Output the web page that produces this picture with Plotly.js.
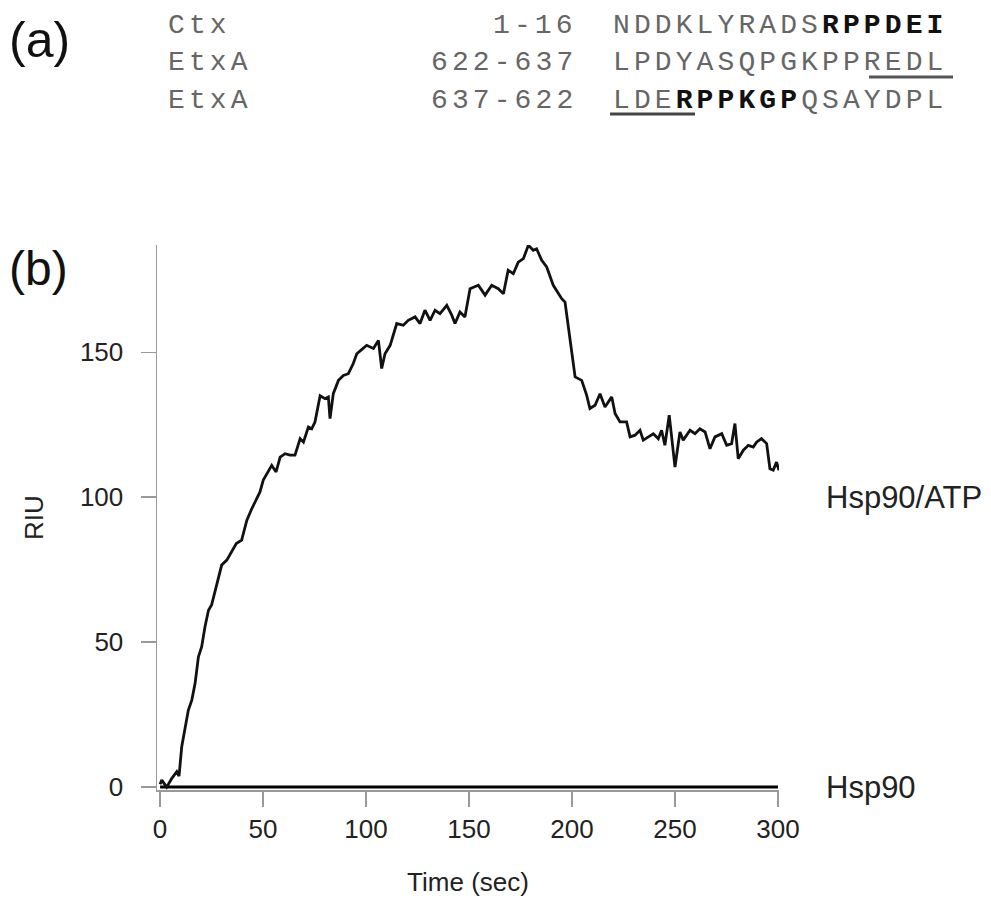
<!DOCTYPE html>
<html>
<head>
<meta charset="utf-8">
<script src="https://cdn.plot.ly/plotly-3.0.1.min.js"></script>
<style>
  html, body { margin: 0; padding: 0; background: #fff; }
  #chart { width: 991px; height: 921px; }
  text.annotation-text[style*="Liberation Mono"] { letter-spacing: 4.1px; }
</style>
</head>
<body>
<div id="chart"></div>
<script>
// ---- data ----
const atpTime = [0, 0.8, 3.2, 5.7, 8.1, 9.2, 10.5, 12.1, 13.7, 15.4,
  17, 18.6, 20.2, 21.8, 23.5, 25, 26.7, 28.3, 29.9, 32.4,
  34.5, 37, 39.6, 42.1, 44.5, 46.1, 48.5, 50.1, 52.6, 54.2,
  56.3, 58.3, 60.7, 63.1, 65.5, 68, 69.6, 72, 73.6, 75.2,
  77.7, 80.1, 81.7, 82.5, 84.1, 86.6, 89, 91.4, 93.8, 95.5,
  98, 100.3, 103.6, 106, 107.6, 109.2, 111.7, 114.9, 118.1, 120.5,
  123.8, 126.2, 128.6, 131.1, 133.5, 135.9, 139.2, 141.6, 143.2, 145.6,
  148, 150.5, 154.5, 157.8, 161, 164.2, 166.7, 169, 171.5, 173.9,
  176.4, 178.8, 181.2, 182.8, 185.3, 187.7, 190.9, 195, 196.6, 199,
  201.5, 204.7, 207.1, 208.7, 211.2, 213.6, 216, 219.3, 220.9, 223.3,
  226.5, 228.2, 230.6, 233, 234.6, 237.1, 239.5, 241.9, 243.5, 245.1,
  247.2, 250, 252.4, 254, 257.3, 259.7, 262.1, 264.6, 267, 269.4,
  272.7, 275.1, 277.5, 279.1, 280.7, 283.2, 285.6, 288, 289.6, 292,
  294.5, 296.1, 297.7, 299.3, 300.5];
const atpRIU = [1, 2.4, 0, 3, 5.3, 3.8, 13.9, 19.7, 26.5, 30,
  35.8, 44.9, 48.4, 55.3, 61, 62.8, 67.3, 71.4, 76.6, 78.3,
  81, 84, 85.2, 92, 96, 98.4, 101.8, 105.9, 109.3, 111,
  108.7, 113.8, 115, 114.5, 114.5, 120.2, 119, 124.2, 123.6, 125.9,
  135, 134, 134.6, 127.1, 135.7, 140.3, 142, 142.6, 146.1, 149.5,
  151, 152.4, 151.3, 154.1, 144.4, 149.5, 152.4, 159.9, 159.3, 161,
  162.2, 159.9, 164.5, 161, 164.5, 163.3, 166.2, 162.8, 159.9, 163.9,
  162.2, 171.9, 173.1, 169.7, 173.1, 171.9, 170.2, 178.3, 177.1, 181.1,
  182.3, 186.9, 185.2, 185.7, 181.7, 179.4, 173.1, 168.5, 167.3, 155.3,
  141.5, 140.3, 135.2, 130.6, 131.7, 135.7, 131.1, 134.6, 128.9, 126,
  126, 120.8, 121.4, 123.1, 119.7, 120.8, 121.9, 120.2, 123.1, 117.9,
  128.3, 110.4, 122.5, 119.7, 123.1, 121.9, 123.6, 122.5, 116.7, 120.8,
  121.9, 117.9, 118.5, 125.4, 113.3, 116.2, 117.9, 117.3, 119, 120.2,
  118.5, 109.8, 109.3, 112.1, 109.3];
const hsp90Time = [0, 300];
const hsp90RIU = [0, 0];

const xTicks = [0, 50, 100, 150, 200, 250, 300];
const yTicks = [0, 50, 100, 150];

const seqNames = ["Ctx", "EtxA", "EtxA"];
const seqRanges = ["1-16", "622-637", "637-622"];
const seqText = [
  'NDDKLYRADS<span style="font-weight:bold;fill:#111">RPPDEI</span>',
  'LPDYASQPGKPPREDL',
  'LDE<span style="font-weight:bold;fill:#111">RPPKGP</span>QSAYDPL'
];

// ---- layout helpers ----
const W = 991, H = 921;
const L = 157, R = 779, T = 245, B = 790;
const px2paperX = p => (p - L) / (R - L);
const px2paperY = p => (B - p) / (B - T);

const sans = 'Liberation Sans, Arial, Helvetica, sans-serif';
const mono = 'Liberation Mono, Courier New, monospace';

const rowY = [25, 62, 100];
const annotations = [];
annotations.push({xref:'paper', yref:'paper', x:0, y:1, xanchor:'left', yanchor:'middle',
  xshift: 7 - L, yshift: T - 40, text:'(a)', showarrow:false,
  font:{family:sans, size:50, color:'#111'}});
annotations.push({xref:'paper', yref:'paper', x:0, y:1, xanchor:'left', yanchor:'middle',
  xshift: 7 - L, yshift: T - 268, text:'(b)', showarrow:false,
  font:{family:sans, size:48, color:'#111'}});
for (let i = 0; i < 3; i++) {
  annotations.push({xref:'paper', yref:'paper', x:0, y:1, xanchor:'left', yanchor:'middle',
    xshift: 166 - L, yshift: T - rowY[i], text: seqNames[i], showarrow:false,
    font:{family:mono, size:28, color:'#666'}});
  annotations.push({xref:'paper', yref:'paper', x:0, y:1, xanchor:'right', yanchor:'middle',
    xshift: 579 - L, yshift: T - rowY[i], text: seqRanges[i], showarrow:false,
    font:{family:mono, size:28, color:'#666'}});
  annotations.push({xref:'paper', yref:'paper', x:0, y:1, xanchor:'left', yanchor:'middle',
    xshift: 611 - L, yshift: T - rowY[i], text: seqText[i], showarrow:false,
    font:{family:mono, size:28, color:'#666'}});
}
annotations.push({xref:'x', yref:'y', x:300, y:100, xanchor:'left', yanchor:'middle',
  xshift: 46, text:'Hsp90/ATP', showarrow:false, font:{family:sans, size:31, color:'#222'}});
annotations.push({xref:'x', yref:'y', x:300, y:0, xanchor:'left', yanchor:'middle',
  xshift: 46, text:'Hsp90', showarrow:false, font:{family:sans, size:31, color:'#222'}});

const shapes = [
  {type:'line', xref:'paper', yref:'paper', x0:px2paperX(869), x1:px2paperX(953),
   y0:px2paperY(77), y1:px2paperY(77), line:{color:'#555', width:3}},
  {type:'line', xref:'paper', yref:'paper', x0:px2paperX(610), x1:px2paperX(695),
   y0:px2paperY(114), y1:px2paperY(114), line:{color:'#444', width:3}}
];

const traces = [
  {x: hsp90Time, y: hsp90RIU, type:'scatter', mode:'lines', name:'Hsp90',
   line:{color:'#000', width:3}, showlegend:false, hoverinfo:'skip'},
  {x: atpTime, y: atpRIU, type:'scatter', mode:'lines', name:'Hsp90/ATP',
   line:{color:'#111', width:2.8}, showlegend:false}
];

const layout = {
  width: W, height: H,
  margin: {l: L, r: W - R, t: T, b: H - B, pad: 0},
  paper_bgcolor: '#fff', plot_bgcolor: '#fff',
  showlegend: false,
  font: {family: sans, color: '#222'},
  xaxis: {
    range: [-1.5, 300.5], showgrid:false, zeroline:false,
    showline:true, linecolor:'#999', linewidth:1.5,
    ticks:'outside', ticklen:15, tickwidth:1.5, tickcolor:'#999',
    tickmode:'array', tickvals: xTicks, ticktext: xTicks.map(String),
    tickfont:{family:sans, size:26, color:'#222'}, ticklabelstandoff: 0,
    title:{text:'Time (sec)', font:{family:sans, size:26, color:'#222'}, standoff: 30}
  },
  yaxis: {
    range: [-1, 187], showgrid:false, zeroline:false,
    showline:true, linecolor:'#999', linewidth:1.5,
    ticks:'outside', ticklen:15, tickwidth:1.5, tickcolor:'#999',
    tickmode:'array', tickvals: yTicks, ticktext: yTicks.map(String),
    tickfont:{family:sans, size:26, color:'#222'}, ticklabelstandoff: 12,
    title:{text:'RIU', font:{family:sans, size:26, color:'#222'}, standoff: 29}
  },
  annotations: annotations,
  shapes: shapes
};

Plotly.newPlot('chart', traces, layout, {displayModeBar:false, staticPlot:true});
</script>
</body>
</html>
